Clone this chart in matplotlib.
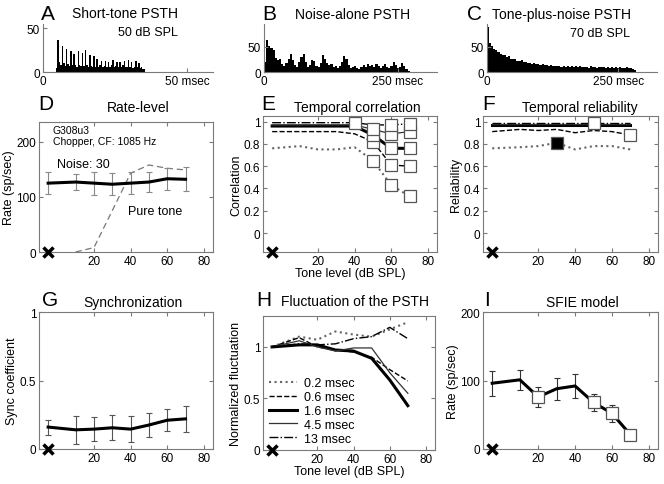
import matplotlib
matplotlib.use("Agg")
import matplotlib.pyplot as plt
import numpy as np

plt.rcParams['font.family'] = ['Liberation Sans', 'DejaVu Sans']

W, H = 664, 485

# ---------------- data ----------------
# PSTH A (short tone, 50 dB SPL): bin start (ms) and counts
a_bin_w = 0.5
a_start = 4.5
a_counts = [5, 37, 12, 8, 30, 10, 7, 26, 9, 7, 24, 8, 21, 8, 6, 24, 8, 7, 22, 7,
            25, 8, 6, 20, 7, 6, 18, 6, 15, 6, 8, 13, 6, 7, 13, 6, 12, 6, 8, 14,
            6, 7, 12, 6, 12, 6, 8, 13, 6, 6, 14, 6, 12, 5, 6, 13, 6, 10, 5, 6, 4, 3]

# PSTH B (noise alone)
b_bin_w = 4
b_counts = [20, 65, 52, 48, 45, 28, 24, 27, 16, 12, 18, 26, 36, 24, 14, 10, 20, 30,
            36, 20, 10, 14, 24, 22, 12, 10, 18, 34, 26, 18, 14, 16, 10, 12, 8, 12,
            20, 32, 26, 14, 8, 10, 12, 8, 6, 10, 14, 10, 16, 12, 14, 10, 16, 12, 8,
            12, 16, 10, 8, 12, 20, 14, 8, 10, 18, 12, 6, 3]

# PSTH C (tone plus noise, 70 dB SPL)
c_bin_w = 4
c_counts = [90, 58, 52, 47, 44, 40, 37, 35, 34, 30, 33, 27, 26, 27, 23, 22, 24, 20,
            21, 18, 19, 17, 18, 16, 17, 15, 16, 14, 15, 13, 14, 12, 13, 12, 13, 11,
            12, 10, 12, 11, 12, 10, 12, 11, 12, 10, 11, 11, 9, 12, 10, 11, 9, 11, 10,
            11, 9, 10, 8, 11, 9, 10, 8, 10, 9, 8, 10, 8, 9, 7, 4]

levels = [-5, 10, 20, 30, 40, 50, 60, 70]

# D: rate-level
noise_rate = [125, 127, 125, 123, 125, 127, 133, 132]
noise_rate_err = [20, 15, 21, 20, 20, 18, 20, 22]
tone_levels = [10, 20, 30, 40, 50, 60, 70]
tone_rate = [0, 8, 75, 143, 158, 152, 149]

# E: temporal correlation (five bin widths)
e_02 = [0.76, 0.78, 0.75, 0.75, 0.77, 0.65, 0.43, 0.33]
e_06 = [0.91, 0.91, 0.91, 0.91, 0.89, 0.82, 0.61, 0.60]
e_16 = [0.96, 0.96, 0.96, 0.96, 0.96, 0.88, 0.76, 0.76]
e_45 = [0.97, 0.97, 0.97, 0.97, 0.97, 0.93, 0.89, 0.91]
e_13 = [0.99, 0.99, 0.99, 0.99, 0.99, 0.97, 0.97, 0.98]
# significance flags (open squares)
e_02_sig = [0, 0, 0, 0, 0, 1, 1, 1]
e_06_sig = [0, 0, 0, 0, 0, 1, 1, 1]
e_16_sig = [0, 0, 0, 0, 0, 1, 1, 1]
e_45_sig = [0, 0, 0, 0, 0, 1, 1, 1]
e_13_sig = [0, 0, 0, 0, 1, 0, 1, 1]

# F: temporal reliability
f_02 = [0.76, 0.77, 0.78, 0.81, 0.75, 0.78, 0.78, 0.75]
f_06 = [0.91, 0.93, 0.92, 0.93, 0.90, 0.92, 0.91, 0.88]
f_16 = [0.97, 0.97, 0.97, 0.97, 0.97, 0.97, 0.97, 0.97]
f_45 = [0.98, 0.98, 0.98, 0.98, 0.98, 0.98, 0.98, 0.98]
f_13 = [0.99, 0.99, 0.99, 0.99, 0.99, 0.99, 0.99, 0.99]
f_02_sig = [0, 0, 0, -1, 0, 0, 0, 0]   # -1 = filled square
f_06_sig = [0, 0, 0, 0, 0, 0, 0, 1]
f_13_sig = [0, 0, 0, 0, 0, 1, 0, 0]

# G: synchronization
sync = [0.16, 0.14, 0.145, 0.155, 0.145, 0.175, 0.21, 0.22]
sync_err = [0.055, 0.10, 0.085, 0.09, 0.095, 0.085, 0.08, 0.095]

# H: normalized fluctuation
h_02 = [1.0, 1.10, 1.07, 1.15, 1.12, 1.10, 1.17, 1.24]
h_06 = [1.0, 1.09, 1.00, 0.97, 0.95, 0.90, 0.78, 0.67]
h_16 = [1.0, 1.02, 1.02, 0.97, 0.96, 0.89, 0.68, 0.43]
h_45 = [1.0, 1.06, 1.00, 0.96, 0.99, 0.99, 0.75, 0.55]
h_13 = [1.0, 1.03, 1.02, 1.03, 1.08, 1.10, 1.19, 1.08]
h_labels = ['0.2 msec', '0.6 msec', '1.6 msec', '4.5 msec', '13 msec']

# I: SFIE model
sfie_rate = [96, 101, 76, 88, 92, 68, 52, 21]
sfie_err = [18, 15, 14, 16, 17, 13, 12, 5]
sfie_sig = [0, 0, 1, 0, 0, 1, 1, 1]

# ---------------- helpers ----------------
fig = plt.figure(figsize=(W / 100, H / 100), dpi=100)

def add_ax(left, top, right, bottom):
    return fig.add_axes([left / W, 1 - bottom / H, (right - left) / W, (bottom - top) / H])

def ftext(x, y, s, **kw):
    fig.text(x / W, 1 - y / H, s, **kw)

SP = '#7a7a7a'
TICK = 8.5

def psth_axes(ax, counts, start, w, xlim, ylim, xt_label):
    edges = start + np.arange(len(counts) + 1) * w
    ax.stairs(counts, edges, fill=True, color='black', linewidth=0)
    ax.set_xlim(*xlim)
    ax.set_ylim(*ylim)
    for s in ['top', 'right']:
        ax.spines[s].set_visible(False)
    for s in ['left', 'bottom']:
        ax.spines[s].set_color(SP)
        ax.spines[s].set_linewidth(0.8)
    ax.set_yticks([0, 50])
    ax.set_yticklabels(['0', '50'])
    ax.set_xticks([0, xt_label[0]])
    ax.set_xticklabels(['0', xt_label[1]])
    ax.tick_params(direction='in', length=3, labelsize=TICK, color=SP, pad=2)

def box_axes(ax, ylim, yticks, ylabels):
    ax.set_xlim(-10, 85)
    ax.set_ylim(*ylim)
    ax.set_xticks([20, 40, 60, 80])
    ax.set_xticklabels(['20', '40', '60', '80'])
    ax.set_yticks(yticks)
    ax.set_yticklabels(ylabels)
    for s in ax.spines.values():
        s.set_color(SP)
        s.set_linewidth(0.8)
    ax.tick_params(direction='in', length=3, labelsize=TICK, color=SP, pad=2,
                   top=True, right=True)
    ax.plot([-5], [ylim[0]], marker='x', color='black', ms=7, mew=2.5,
            clip_on=False, zorder=10)

def sig_squares(ax, y, flags, ms=9):
    xs_open = [x for x, v, f in zip(levels, y, flags) if f == 1]
    ys_open = [v for x, v, f in zip(levels, y, flags) if f == 1]
    xs_fill = [x for x, v, f in zip(levels, y, flags) if f == -1]
    ys_fill = [v for x, v, f in zip(levels, y, flags) if f == -1]
    ax.plot(xs_open, ys_open, 's', ms=ms, mfc='white', mec='#555555', mew=0.9, zorder=6)
    ax.plot(xs_fill, ys_fill, 's', ms=ms, mfc='black', mec='#555555', mew=0.9, zorder=6)

styles = [dict(ls=':', color='#666666', lw=1.5),
          dict(ls='--', color='black', lw=1.0),
          dict(ls='-', color='black', lw=2.2),
          dict(ls='-', color='#333333', lw=0.9),
          dict(ls='-.', color='black', lw=1.0)]

# ---------------- A, B, C ----------------
axA = add_ax(43, 25, 213, 73)
psth_axes(axA, a_counts, a_start, a_bin_w, (0, 59), (0, 55), (50, '50 msec'))
axB = add_ax(264, 25, 437, 73)
psth_axes(axB, b_counts, 0, b_bin_w, (0, 323), (0, 96), (250, '250 msec'))
axC = add_ax(487, 25, 657, 73)
psth_axes(axC, c_counts, 0, c_bin_w, (0, 324), (0, 96), (250, '250 msec'))

LET = 15
TIT = 10
ftext(41, 14, 'A', fontsize=LET, va='center', ha='left')
ftext(262, 14, 'B', fontsize=LET, va='center', ha='left')
ftext(467, 15, 'C', fontsize=LET, va='center', ha='left')
ftext(125, 14, 'Short-tone PSTH', fontsize=TIT, va='center', ha='center')
ftext(353, 15, 'Noise-alone PSTH', fontsize=TIT, va='center', ha='center')
ftext(562, 15, 'Tone-plus-noise PSTH', fontsize=TIT, va='center', ha='center')
ftext(178, 33, '50 dB SPL', fontsize=9, va='center', ha='right')
ftext(630, 34, '70 dB SPL', fontsize=9, va='center', ha='right')

# ---------------- D ----------------
axD = add_ax(39, 123, 213, 253)
box_axes(axD, (0, 236), [0, 100, 200], ['0', '100', '200'])
axD.plot(tone_levels, tone_rate, ls=(0, (5, 3)), color='#777777', lw=0.9)
axD.errorbar(levels, noise_rate, yerr=noise_rate_err, color='black', lw=2.2,
             ecolor='#888888', elinewidth=0.8, capsize=2, capthick=0.8)
axD.text(0.08, 0.975, 'G308u3\nChopper, CF: 1085 Hz', transform=axD.transAxes,
         fontsize=7.5, va='top', ha='left', linespacing=1.1)
axD.text(0, 160, 'Noise: 30', fontsize=9, va='center', ha='left')
axD.text(38.5, 75, 'Pure tone', fontsize=9, va='center', ha='left')
axD.set_ylabel('Rate (sp/sec)', fontsize=9, labelpad=1)

# ---------------- E ----------------
axE = add_ax(263, 117, 437, 253)
box_axes(axE, (-0.17, 1.05), [0, 0.2, 0.4, 0.6, 0.8, 1],
         ['0', '0.2', '0.4', '0.6', '0.8', '1'])
for y, st, fl in zip([e_02, e_06, e_16, e_45, e_13], styles,
                     [e_02_sig, e_06_sig, e_16_sig, e_45_sig, e_13_sig]):
    axE.plot(levels, y, **st)
    sig_squares(axE, y, fl)
axE.set_ylabel('Correlation', fontsize=9, labelpad=1)
axE.set_xlabel('Tone level (dB SPL)', fontsize=9, labelpad=0)

# ---------------- F ----------------
axF = add_ax(483, 117, 658, 253)
box_axes(axF, (-0.17, 1.05), [0, 0.2, 0.4, 0.6, 0.8, 1],
         ['0', '0.2', '0.4', '0.6', '0.8', '1'])
for y, st in zip([f_02, f_06, f_16, f_45, f_13], styles):
    axF.plot(levels, y, **st)
sig_squares(axF, f_02, f_02_sig)
sig_squares(axF, f_06, f_06_sig)
sig_squares(axF, f_13, f_13_sig)
axF.set_ylabel('Reliability', fontsize=9, labelpad=1)

ftext(38, 105, 'D', fontsize=LET, va='center', ha='left')
ftext(261, 105, 'E', fontsize=LET, va='center', ha='left')
ftext(482, 105, 'F', fontsize=LET, va='center', ha='left')
ftext(138, 108, 'Rate-level', fontsize=TIT, va='center', ha='center')
ftext(357, 108, 'Temporal correlation', fontsize=TIT, va='center', ha='center')
ftext(580, 108, 'Temporal reliability', fontsize=TIT, va='center', ha='center')

# ---------------- G ----------------
axG = add_ax(39, 313, 213, 450)
box_axes(axG, (0, 1), [0, 0.5, 1], ['0', '0.5', '1'])
axG.errorbar(levels, sync, yerr=sync_err, color='black', lw=2.2,
             ecolor='#555555', elinewidth=0.8, capsize=2, capthick=0.8)
axG.set_ylabel('Sync coefficient', fontsize=9, labelpad=1)

# ---------------- H ----------------
axH = add_ax(263, 317, 435, 451)
box_axes(axH, (0, 1.3), [0, 0.5, 1], ['0', '0.5', '1'])
for y, st, lab in zip([h_02, h_06, h_16, h_45, h_13], styles, h_labels):
    axH.plot(levels, y, label=lab, **st)
axH.legend(loc='lower left', bbox_to_anchor=(0.03, 0.03), frameon=False,
           fontsize=9, handlelength=2.2, handletextpad=0.6, labelspacing=0.15,
           borderpad=0.1, borderaxespad=0)
axH.set_ylabel('Normalized fluctuation', fontsize=9, labelpad=1)
axH.set_xlabel('Tone level (dB SPL)', fontsize=9, labelpad=0)

# ---------------- I ----------------
axI = add_ax(483, 313, 658, 450)
box_axes(axI, (0, 200), [0, 100, 200], ['0', '100', '200'])
axI.errorbar(levels, sfie_rate, yerr=sfie_err, color='black', lw=2.2,
             ecolor='#333333', elinewidth=0.8, capsize=2, capthick=0.8)
sig_squares(axI, sfie_rate, sfie_sig)
axI.set_ylabel('Rate (sp/sec)', fontsize=9, labelpad=1)

ftext(42, 300, 'G', fontsize=LET, va='center', ha='left')
ftext(256, 300, 'H', fontsize=LET, va='center', ha='left')
ftext(484, 300, 'I', fontsize=LET, va='center', ha='left')
ftext(133, 303, 'Synchronization', fontsize=TIT, va='center', ha='center')
ftext(355, 302, 'Fluctuation of the PSTH', fontsize=TIT, va='center', ha='center')
ftext(582, 303, 'SFIE model', fontsize=TIT, va='center', ha='center')

fig.savefig('out.png', dpi=100)
